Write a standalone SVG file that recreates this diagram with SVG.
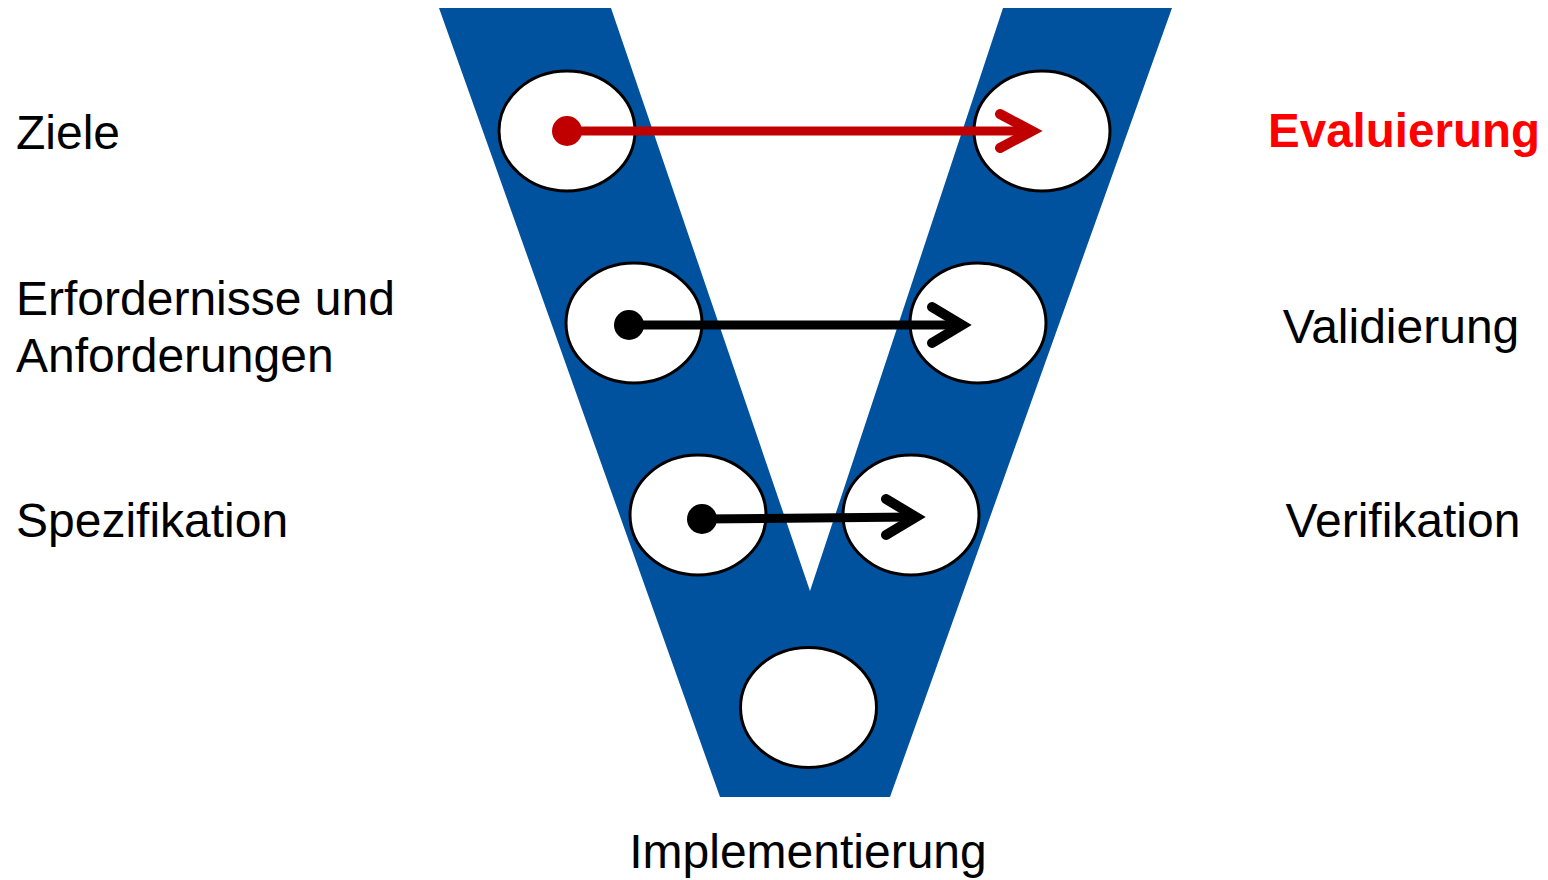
<svg xmlns="http://www.w3.org/2000/svg" width="1548" height="880" viewBox="0 0 1548 880">
<style>
.lbl{font-family:"Liberation Sans",Arial,sans-serif;font-size:48px;fill:#000}
.ev{font-weight:bold;fill:#FF0000;font-size:47.5px}
.node{fill:#fff;stroke:#000;stroke-width:3}
.ln{fill:none;stroke-width:9;stroke-linecap:round;stroke-linejoin:round}
.hd{fill:none;stroke-width:10;stroke-linecap:round;stroke-linejoin:miter}
</style>
<rect width="1548" height="880" fill="#fff"/>
<g id="v-shape">
<polygon points="439,8 611,8 810,591 1003,8 1172,8 890,797 720,797" fill="#00529F"/>
</g>
<g id="node-ziele"><ellipse class="node" cx="567" cy="131" rx="68" ry="60"/></g>
<g id="node-evaluierung"><ellipse class="node" cx="1042" cy="131" rx="68" ry="60"/></g>
<g id="node-erfordernisse"><ellipse class="node" cx="634" cy="323" rx="68" ry="60"/></g>
<g id="node-validierung"><ellipse class="node" cx="978" cy="323" rx="68" ry="60"/></g>
<g id="node-spezifikation"><ellipse class="node" cx="698" cy="515" rx="68" ry="60"/></g>
<g id="node-verifikation"><ellipse class="node" cx="911" cy="515" rx="68" ry="60"/></g>
<g id="node-implementierung"><ellipse class="node" cx="808.5" cy="707.5" rx="68" ry="60"/></g>
<g id="connectors">
<g stroke="#C00000" fill="#C00000">
<circle cx="567" cy="131" r="15" stroke="none"/>
<line class="ln" x1="567" y1="131" x2="1030" y2="131"/>
<polyline class="hd" points="1000,114 1032,131 1000,148"/>
</g>
<g stroke="#000" fill="#000">
<circle cx="629" cy="325" r="15" stroke="none"/>
<line class="ln" x1="629" y1="325" x2="960" y2="325"/>
<polyline class="hd" points="932,307 962,325 932,343"/>
<circle cx="702" cy="519" r="15" stroke="none"/>
<line class="ln" x1="702" y1="519" x2="914" y2="517"/>
<polyline class="hd" points="886,499 916,517 886,535"/>
</g>
</g>
<g id="labels">
<text class="lbl" x="16" y="149">Ziele</text>
<text class="lbl" x="16" y="315">Erfordernisse und</text>
<text class="lbl" x="16" y="372">Anforderungen</text>
<text class="lbl" x="16" y="537">Spezifikation</text>
<text class="lbl ev" x="1404" y="147" text-anchor="middle">Evaluierung</text>
<text class="lbl" x="1401" y="343" text-anchor="middle">Validierung</text>
<text class="lbl" x="1403" y="537" text-anchor="middle">Verifikation</text>
<text class="lbl" x="808" y="868" text-anchor="middle">Implementierung</text>
</g>
</svg>
